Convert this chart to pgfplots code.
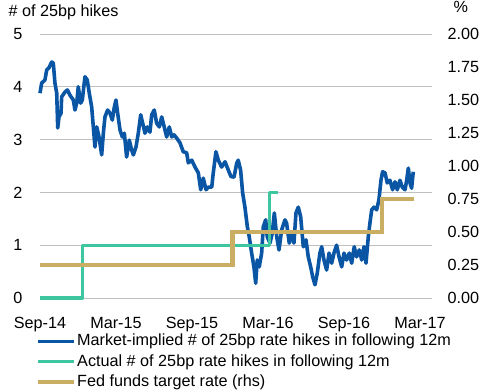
\documentclass[border=0pt]{standalone}
\usepackage{pgfplots}
\pgfplotsset{compat=1.18}
\usepackage{fontspec}
\setmainfont{Liberation Sans}
\definecolor{cblue}{RGB}{10,86,165}
\definecolor{cgreen}{RGB}{62,198,160}
\definecolor{cgold}{RGB}{201,174,100}
\definecolor{cgrid}{RGB}{191,191,191}
\begin{document}
\fontsize{16.2}{19}\selectfont
\begin{tikzpicture}
\useasboundingbox (-40pt,-93pt) rectangle (442pt,298pt);
\pgfplotsset{
  base/.style={
    at={(0pt,0pt)}, anchor=south west,
    scale only axis, width=392pt, height=264pt,
    xmin=0, xmax=30.95,
    axis line style={draw=none}, major tick length=0pt,
    clip=false,
    tick label style={font=\fontsize{16.2}{19}\selectfont},
    /pgf/number format/assume math mode=true,
  }
}
\begin{axis}[base,
  ymin=0, ymax=5, ytick={0,1,2,3,4,5},
  xtick={0,6,12,18,24,30},
  xticklabels={Sep-14,Mar-15,Sep-15,Mar-16,Sep-16,Mar-17},
  ymajorgrids, grid style={cgrid, line width=0.8pt},
  yticklabel style={xshift=-12pt},
  xticklabel style={yshift=-14pt},
]
\addplot[cblue, line width=3.6pt, line join=round] table {
0 3.88
0.13 4.07
0.39 4.13
0.53 4.32
0.71 4.36
0.92 4.47
1.05 4.45
1.18 4.07
1.32 3.88
1.40 3.22
1.50 3.43
1.66 3.50
1.71 3.81
1.97 3.90
2.16 3.94
2.37 3.84
2.63 3.75
2.76 3.56
2.90 3.69
3.02 4.00
3.21 3.69
3.34 3.75
3.55 4.19
3.73 4.13
3.89 3.88
4.08 3.62
4.21 3.24
4.34 2.86
4.48 3.24
4.66 3.05
4.87 2.71
5.00 3.12
5.13 3.43
5.34 3.56
5.53 3.50
5.71 3.37
5.87 3.62
6.00 3.75
6.13 3.50
6.32 3.18
6.50 3.05
6.66 3.12
6.84 2.67
7.05 2.99
7.24 2.80
7.37 2.71
7.58 2.86
7.76 3.12
7.95 3.47
8.11 3.31
8.29 3.12
8.47 3.24
8.68 3.14
8.82 3.47
9.02 3.56
9.21 3.31
9.42 3.24
9.61 3.43
9.81 3.24
10.00 3.05
10.21 3.24
10.40 3.05
10.58 3.09
10.79 3.03
11.05 2.94
11.31 2.77
11.58 2.75
11.71 2.56
11.98 2.61
12.24 2.48
12.50 2.37
12.69 2.05
12.89 2.27
13.11 2.05
13.29 2.10
13.56 2.10
13.68 2.37
13.89 2.77
14.08 2.61
14.34 2.48
14.61 2.58
14.87 2.42
15.08 2.30
15.32 2.29
15.53 2.55
15.65 2.61
15.84 2.42
16.00 1.99
16.18 1.72
16.37 1.35
16.52 1.16
16.71 0.85
16.89 0.59
17.03 0.28
17.15 0.72
17.31 0.59
17.50 0.85
17.63 1.35
17.82 1.48
17.94 1.16
18.16 1.04
18.34 1.23
18.50 1.61
18.69 1.16
18.87 0.91
19.08 1.29
19.34 1.48
19.47 1.42
19.68 1.04
19.87 1.23
20.05 1.04
20.21 1.61
20.39 1.72
20.58 1.54
20.79 0.97
21.00 1.10
21.18 0.78
21.37 0.59
21.53 0.40
21.71 0.25
21.89 0.47
22.10 0.85
22.24 0.97
22.42 0.72
22.63 0.53
22.82 0.85
23.03 0.66
23.21 0.85
23.42 1.00
23.61 0.78
23.82 0.59
24.00 0.85
24.21 0.72
24.42 0.85
24.61 0.66
24.81 0.97
25.00 0.78
25.21 0.91
25.40 0.72
25.58 0.97
25.74 0.66
25.92 1.16
26.05 1.42
26.19 1.67
26.37 1.72
26.58 1.67
26.76 1.86
26.92 2.23
27.05 2.39
27.24 2.37
27.42 2.18
27.63 2.23
27.84 2.05
28.03 2.20
28.21 2.05
28.42 2.23
28.60 2.10
28.82 2.05
28.95 2.23
29.08 2.46
29.21 2.18
29.34 2.08
29.47 2.39
};
\addplot[cgreen, line width=3.2pt, line join=round] coordinates {
(0,0) (3.36,0) (3.36,1) (18.12,1) (18.12,2) (18.8,2)
};
\end{axis}
\begin{axis}[base,
  ymin=0, ymax=2,
  axis y line*=right, axis x line=none,
  ytick={0,0.25,0.5,0.75,1,1.25,1.5,1.75,2},
  yticklabel style={xshift=10pt, /pgf/number format/.cd, fixed, fixed zerofill, precision=2},
  legend cell align=left,
  legend image code/.code={\draw[#1] (0pt,0pt) -- (36pt,0pt);},
  legend style={at={(-0.0102,-0.1297)}, anchor=north west, draw=none, fill=none,
    inner sep=0pt, outer sep=0pt, row sep=2.3pt,
    font=\fontsize{16.2}{19}\selectfont,
    nodes={inner xsep=1pt, inner ysep=2pt}},
]
\addlegendimage{cblue, line width=2.7pt}
\addlegendentry{Market-implied \# of 25bp rate hikes in following 12m}
\addlegendimage{cgreen, line width=2.7pt}
\addlegendentry{Actual \# of 25bp rate hikes in following 12m}
\addplot[cgold, line width=4.2pt] coordinates {
(0,0.25) (15.2,0.25) (15.2,0.5) (27.0,0.5) (27.0,0.75) (29.5,0.75)
};
\addlegendentry{Fed funds target rate (rhs)}
\end{axis}
\node[anchor=base west, font=\fontsize{16.2}{19}\selectfont] at (-37pt,281.3pt) {\# of 25bp hikes};
\node[anchor=base, font=\fontsize{16.2}{19}\selectfont] at (420.7pt,285pt) {\%};
\end{tikzpicture}
\end{document}
